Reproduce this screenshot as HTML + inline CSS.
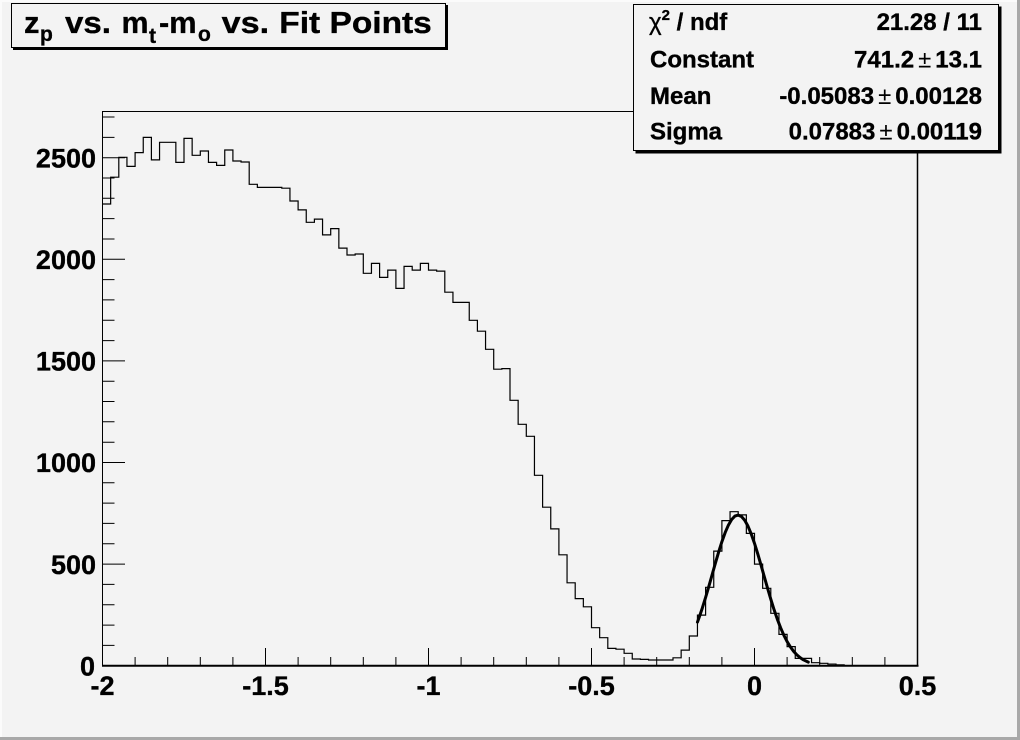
<!DOCTYPE html>
<html><head><meta charset="utf-8"><style>
html,body{margin:0;padding:0;background:#f3f3f3;}
svg{display:block;}
text{font-family:"Liberation Sans",Arial,sans-serif;font-weight:bold;fill:#000;stroke:#000;stroke-width:0.35px;}
</style></head><body>
<svg width="1020" height="740" viewBox="0 0 1020 740" xmlns="http://www.w3.org/2000/svg">
<rect x="0" y="0" width="1020" height="740" fill="#f3f3f3"/>
<!-- canvas bevel -->
<rect x="0" y="0" width="1020" height="2" fill="#fbfbfb"/>
<rect x="0" y="0" width="2" height="740" fill="#fbfbfb"/>
<rect x="1017" y="0" width="3" height="740" fill="#a8a8a8"/>
<rect x="0" y="737" width="1020" height="3" fill="#a8a8a8"/>

<!-- frame -->
<rect x="102.5" y="111.5" width="815" height="554" fill="none" stroke="#000" stroke-width="1"/>
<line x1="102" y1="665.7" x2="918.5" y2="665.7" stroke="#000" stroke-width="2"/>
<line x1="917.5" y1="111" x2="917.5" y2="666" stroke="#000" stroke-width="1.5"/>

<!-- x ticks -->
<g stroke="#000" stroke-width="1">
<path d="M102.5 666V648 M265.5 666V648 M428.5 666V648 M591.5 666V648 M754.5 666V648 M917.5 666V648"/>
<path d="M135.1 666V657 M167.7 666V657 M200.3 666V657 M232.9 666V657
M298.1 666V657 M330.7 666V657 M363.3 666V657 M395.9 666V657
M461.1 666V657 M493.7 666V657 M526.3 666V657 M558.9 666V657
M624.1 666V657 M656.7 666V657 M689.3 666V657 M721.9 666V657
M787.1 666V657 M819.7 666V657 M852.3 666V657 M884.9 666V657"/>
<!-- y ticks -->
<path d="M102.5 665.7H125 M102.5 564.1H125 M102.5 462.5H125 M102.5 360.9H125 M102.5 259.3H125 M102.5 157.7H125"/>
<path d="M102.5 645.4H114.5 M102.5 625.1H114.5 M102.5 604.7H114.5 M102.5 584.4H114.5
M102.5 543.8H114.5 M102.5 523.4H114.5 M102.5 503.1H114.5 M102.5 482.8H114.5
M102.5 442.2H114.5 M102.5 421.8H114.5 M102.5 401.5H114.5 M102.5 381.2H114.5
M102.5 340.6H114.5 M102.5 320.2H114.5 M102.5 299.9H114.5 M102.5 279.6H114.5
M102.5 239.0H114.5 M102.5 218.6H114.5 M102.5 198.3H114.5 M102.5 178.0H114.5
M102.5 137.4H114.5 M102.5 117.0H114.5"/>
</g>

<!-- histogram -->
<path fill="none" stroke="#000" stroke-width="1.2" d="M102.5 204 H110.65 V177.2 H118.8 V157.3 H126.95 V166.4 H135.1 V152.6 H143.25 V137.4 H151.4 V159.9 H159.55 V142.3 H175.85 V162.4 H184 V138.4 H192.15 V155.3 H200.3 V151 H208.45 V162.4 H216.6 V165.4 H224.75 V150 H232.9 V161 H241.05 V162 H249.2 V184.3 H257.35 V187.4 H281.8 V188.2 H289.95 V201 H298.1 V209.9 H306.25 V222.3 H314.4 V219.1 H322.55 V234.9 H330.7 V228.6 H338.85 V248.1 H347 V255 H355.15 V254 H363.3 V273.3 H371.45 V263.4 H379.6 V277.4 H387.75 V270.1 H395.9 V288.4 H404.05 V266.4 H412.2 V270.1 H420.35 V263.4 H428.5 V270.1 H436.65 V271.1 H444.8 V292.2 H452.95 V302.4 H469.25 V320.3 H477.4 V331.2 H485.55 V349.3 H493.7 V369.2 H501.85 V368.6 H510 V400.3 H518.15 V424.3 H526.3 V436.3 H534.45 V475.3 H542.6 V507.2 H550.75 V528.9 H558.9 V554.8 H567.05 V582.8 H575.2 V598.6 H583.35 V606.8 H591.5 V627.7 H599.65 V637.7 H607.8 V648.4 H615.95 V649.2 H624.1 V653.3 H632.25 V659 H640.4 V659.4 H648.55 V660 H673 V657.8 H681.15 V650.1 H689.3 V636 H697.45 V615.1 H705.6 V587.3 H713.75 V551.1 H721.9 V520.6 H730.05 V511.7 H738.2 V514.9 H746.35 V533.4 H754.5 V564.1 H762.65 V588.3 H770.8 V613.3 H778.95 V634.4 H787.1 V646.6 H795.25 V658.4 H811.55 V662.7 H819.7 V663.3 H827.85 V664.1 H836 V664.9 H844.15 V665.7 H917.5"/>

<!-- gaussian fit -->
<polyline fill="none" stroke="#000" stroke-width="3" stroke-linejoin="round" stroke-linecap="round" points="697.45,622.13 699.08,617.66 702.34,607.97 705.6,597.42 708.86,586.27 712.12,574.73 715.38,563.21 718.64,552.07 721.9,541.71 725.16,532.58 728.42,525.07 731.68,519.48 734.94,516.1 738.2,515.09 741.46,516.51 744.72,520.25 747.98,526.16 751.24,533.99 754.5,543.35 757.76,553.88 761.02,565.1 764.28,576.66 767.54,588.14 770.8,599.23 774.06,609.64 777.32,619.17 780.58,627.7 783.84,635.18 787.1,641.56 790.36,646.9 793.62,651.31 796.88,654.85 800.14,657.65 803.4,659.83 808.29,662.14"/>

<!-- y labels -->
<g font-size="27" text-anchor="end">
<text x="95" y="675.4">0</text>
<text x="96" y="573.8">500</text>
<text x="96" y="472.2">1000</text>
<text x="96" y="370.6">1500</text>
<text x="96" y="269">2000</text>
<text x="96" y="167.4">2500</text>
</g>
<!-- x labels -->
<g font-size="27" text-anchor="middle">
<text x="102.5" y="695">-2</text>
<text x="265.5" y="695">-1.5</text>
<text x="428.5" y="695">-1</text>
<text x="591.5" y="695">-0.5</text>
<text x="754.5" y="695">0</text>
<text x="917.5" y="695">0.5</text>
</g>

<!-- title box -->
<rect x="13" y="5" width="435" height="45" fill="#000" stroke="none"/>
<rect x="11.5" y="3.5" width="434" height="44" fill="#f3f3f3" stroke="#000" stroke-width="1"/>
<g font-size="31">
<text x="24" y="33">z</text>
<text x="40" y="41" font-size="21">p</text>
<text x="65" y="33" textLength="46" lengthAdjust="spacingAndGlyphs">vs.</text>
<text x="121.5" y="33" textLength="27" lengthAdjust="spacingAndGlyphs">m</text>
<text x="149" y="43" font-size="21">t</text>
<text x="159" y="33" textLength="37.5" lengthAdjust="spacingAndGlyphs">-m</text>
<text x="198" y="41" font-size="21">o</text>
<text x="221.7" y="33" textLength="47.5" lengthAdjust="spacingAndGlyphs">vs.</text>
<text x="279.3" y="33" textLength="152.5" lengthAdjust="spacingAndGlyphs">Fit Points</text>
</g>

<!-- stats box -->
<rect x="635.5" y="6.5" width="366" height="147" fill="#000" stroke="none"/>
<rect x="633.5" y="4.5" width="365" height="146" fill="#f3f3f3" stroke="#000" stroke-width="1"/>
<g font-size="24">
<text x="649" y="30"><tspan font-weight="normal">χ</tspan><tspan font-size="15" dy="-10">2</tspan><tspan dy="10"> / ndf</tspan></text>
<text x="650" y="67.5">Constant</text>
<text x="650" y="104">Mean</text>
<text x="650" y="139.5">Sigma</text>
</g>
<g font-size="24" text-anchor="end">
<text x="982" y="30">21.28 / 11</text>
<text x="982" y="67.5">741.2<tspan font-weight="normal" stroke-width="0" dx="4">±</tspan><tspan dx="4">13.1</tspan></text>
<text x="982" y="104">-0.05083<tspan font-weight="normal" stroke-width="0" dx="4">±</tspan><tspan dx="4">0.00128</tspan></text>
<text x="982" y="139.5">0.07883<tspan font-weight="normal" stroke-width="0" dx="4">±</tspan><tspan dx="4">0.00119</tspan></text>
</g>
</svg>
</body></html>
